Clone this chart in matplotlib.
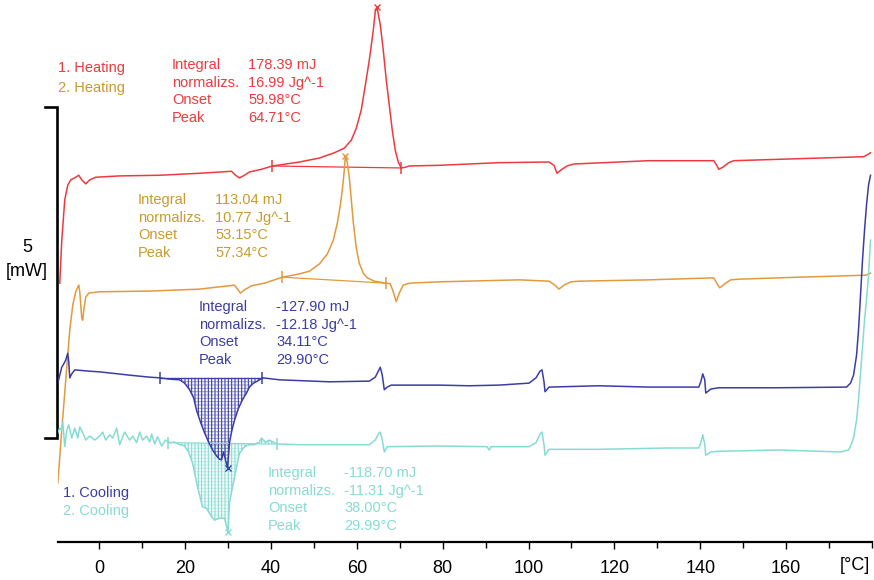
import numpy as np
import matplotlib
matplotlib.use("Agg")
import matplotlib.pyplot as plt

plt.rcParams['font.family'] = ['Liberation Sans', 'DejaVu Sans']
plt.rcParams['hatch.linewidth'] = 0.8

# ---- DSC runs: temperature [°C] and heat flow [mW] (runs stacked with offsets) ----
heat1_T = [-9.19, -8.72, -8.02, -7.33, -6.63, -5.47, -4.77, -4.07, -3.14, -2.21,
           -0.81, 4.77, 14.07, 23.37, 30.81, 31.74, 32.67, 33.84, 35.0, 37.79,
           40.35, 46.63, 51.28, 54.77, 57.09, 58.72, 59.88, 61.05, 61.98, 62.91,
           63.84, 64.30, 64.71, 65.47, 66.16, 66.86, 67.56, 68.26, 68.95, 69.65,
           70.35, 71.28, 72.21, 79.19, 93.14, 104.77, 105.93, 106.63, 107.56, 108.95,
           110.58, 128.02, 143.14, 143.84, 144.30, 145.23, 146.63, 147.79, 162.91, 178.02,
           178.95, 179.65]
heat1_mW = [3.91, 4.56, 5.17, 5.39, 5.47, 5.51, 5.54, 5.47, 5.41, 5.47,
            5.51, 5.53, 5.54, 5.57, 5.60, 5.54, 5.50, 5.54, 5.59, 5.63,
            5.68, 5.74, 5.80, 5.88, 5.95, 6.07, 6.25, 6.53, 6.90, 7.28,
            7.73, 8.01, 8.08, 7.81, 7.43, 6.98, 6.60, 6.22, 5.92, 5.74,
            5.65, 5.66, 5.68, 5.69, 5.73, 5.74, 5.69, 5.57, 5.62, 5.68,
            5.71, 5.76, 5.76, 5.69, 5.63, 5.66, 5.73, 5.76, 5.79, 5.82,
            5.85, 5.88]

heat2_T = [-9.65, -8.72, -7.79, -6.86, -6.16, -5.47, -5.0, -4.77, -4.53, -4.30,
           -4.07, -3.84, -3.60, -3.14, -2.44, 0.12, 11.74, 23.37, 31.51, 32.21,
           32.91, 33.84, 35.47, 38.49, 42.67, 46.63, 48.95, 51.28, 53.14, 54.53,
           55.47, 56.16, 56.63, 57.09, 57.34, 57.79, 58.26, 58.72, 59.19, 59.88,
           60.58, 61.51, 62.44, 64.07, 66.86, 67.79, 68.49, 69.19, 69.88, 70.81,
           72.21, 79.19, 97.79, 104.77, 106.16, 107.09, 108.26, 109.88, 111.74, 128.02,
           143.14, 143.84, 144.53, 145.70, 147.09, 148.95, 162.91, 178.49, 179.65]
heat2_mW = [0.89, 1.69, 2.45, 3.20, 3.58, 3.78, 3.85, 3.88, 3.78, 3.58,
            3.38, 3.35, 3.50, 3.70, 3.76, 3.78, 3.79, 3.82, 3.88, 3.82,
            3.76, 3.81, 3.87, 3.91, 4.00, 4.05, 4.09, 4.20, 4.35, 4.56,
            4.82, 5.09, 5.32, 5.62, 5.83, 5.73, 5.50, 5.17, 4.82, 4.44,
            4.21, 4.06, 3.99, 3.94, 3.91, 3.90, 3.78, 3.63, 3.76, 3.88,
            3.91, 3.93, 3.96, 3.94, 3.88, 3.82, 3.88, 3.93, 3.94, 3.96,
            3.99, 3.91, 3.84, 3.90, 3.96, 3.97, 4.00, 4.03, 4.06]

cool1_T = [-9.65, -9.19, -8.72, -8.26, -7.79, -7.33, -7.09, -6.86, -6.40, -5.70,
           -2.21, 0.12, 7.09, 11.74, 14.07, 16.40, 18.72, 19.88, 21.05, 21.98,
           22.67, 23.60, 24.53, 25.47, 26.40, 27.33, 28.02, 28.49, 28.95, 29.42,
           29.90, 30.35, 30.81, 31.51, 32.44, 33.37, 34.30, 35.0, 35.93, 36.86,
           38.02, 41.98, 53.60, 62.91, 64.30, 65.0, 65.47, 65.93, 66.40, 67.09,
           68.02, 79.19, 86.16, 93.14, 100.12, 101.74, 102.67, 103.14, 103.60, 103.84,
           104.77, 116.40, 128.02, 139.65, 140.12, 140.58, 141.05, 141.28, 142.44, 144.30,
           158.26, 174.07, 175.0, 175.70, 176.40, 176.86, 177.33, 177.79, 178.26, 178.72,
           179.19, 179.65]
cool1_mW = [2.40, 2.52, 2.64, 2.69, 2.75, 2.85, 2.72, 2.48, 2.54, 2.60,
            2.58, 2.57, 2.52, 2.49, 2.48, 2.46, 2.45, 2.40, 2.30, 2.18,
            1.99, 1.81, 1.65, 1.51, 1.39, 1.30, 1.25, 1.24, 1.36, 1.24,
            1.12, 1.50, 1.66, 1.84, 2.02, 2.15, 2.25, 2.34, 2.40, 2.43,
            2.48, 2.45, 2.42, 2.43, 2.49, 2.58, 2.64, 2.52, 2.30, 2.34,
            2.37, 2.37, 2.36, 2.37, 2.40, 2.48, 2.58, 2.60, 2.42, 2.27,
            2.34, 2.36, 2.34, 2.34, 2.42, 2.54, 2.45, 2.25, 2.31, 2.33,
            2.33, 2.34, 2.40, 2.52, 2.82, 3.20, 3.73, 4.26, 4.71, 5.09,
            5.39, 5.54]

cool2_T = [-9.65, -9.19, -8.79, -8.49, -8.02, -7.56, -7.09, -6.40, -5.70, -5.0,
           -4.53, -3.84, -3.14, -2.21, -1.05, 0.12, 0.81, 1.51, 2.44, 3.14,
           4.07, 4.77, 5.93, 7.09, 7.79, 8.72, 9.42, 10.12, 11.05, 11.74,
           12.21, 12.91, 13.60, 14.53, 15.47, 16.40, 17.56, 18.72, 19.88, 20.81,
           21.74, 22.91, 24.07, 25.0, 26.16, 26.86, 28.02, 29.19, 29.99, 30.35,
           31.05, 31.98, 32.67, 33.84, 35.0, 36.16, 37.33, 37.79, 38.72, 39.65,
           40.81, 41.51, 46.63, 62.91, 64.30, 65.0, 65.47, 65.93, 66.40, 67.09,
           79.19, 90.35, 90.81, 91.28, 100.12, 101.74, 102.67, 103.14, 103.60, 103.84,
           104.77, 116.40, 132.67, 139.65, 140.12, 140.58, 141.05, 141.28, 142.44, 144.30,
           158.26, 172.67, 174.53, 175.0, 175.70, 176.40, 176.86, 177.56, 178.26, 178.72,
           179.19, 179.65]
cool2_mW = [1.65, 1.72, 1.69, 1.81, 1.44, 1.69, 1.77, 1.57, 1.72, 1.57,
            1.74, 1.65, 1.54, 1.60, 1.54, 1.60, 1.66, 1.54, 1.62, 1.57,
            1.72, 1.47, 1.66, 1.54, 1.60, 1.50, 1.66, 1.54, 1.60, 1.51,
            1.63, 1.48, 1.59, 1.45, 1.54, 1.50, 1.51, 1.47, 1.45, 1.36,
            1.19, 0.83, 0.53, 0.51, 0.38, 0.33, 0.36, 0.36, 0.15, 0.59,
            0.83, 1.13, 1.34, 1.44, 1.47, 1.47, 1.51, 1.57, 1.51, 1.54,
            1.50, 1.48, 1.47, 1.47, 1.54, 1.63, 1.66, 1.54, 1.36, 1.44,
            1.45, 1.44, 1.39, 1.44, 1.44, 1.50, 1.63, 1.66, 1.47, 1.31,
            1.40, 1.40, 1.42, 1.42, 1.50, 1.62, 1.47, 1.31, 1.36, 1.37,
            1.39, 1.36, 1.39, 1.45, 1.57, 1.84, 2.15, 2.75, 3.35, 3.66,
            4.03, 4.56]

# Integration limits (start/end temperature, baseline heat flow at each end)
heat1_limits = [40.35, 70.35]
heat1_base = [5.68, 5.65]
heat2_limits = [42.67, 66.86]
heat2_base = [4.00, 3.91]
cool1_limits = [14.07, 38.02]
cool1_base = [2.48, 2.48]
cool2_limits = [15.93, 41.51]
cool2_base = [1.50, 1.48]

# Evaluation results
stat_names = ["Integral", "normalizs.", "Onset", "Peak"]
heat1_stats = ["178.39 mJ", "16.99 Jg^-1", "59.98°C", "64.71°C"]
heat2_stats = ["113.04 mJ", "10.77 Jg^-1", "53.15°C", "57.34°C"]
cool1_stats = ["-127.90 mJ", "-12.18 Jg^-1", "34.11°C", "29.90°C"]
cool2_stats = ["-118.70 mJ", "-11.31 Jg^-1", "38.00°C", "29.99°C"]
run_names = ["1. Heating", "2. Heating", "1. Cooling", "2. Cooling"]

x_ticks = [0, 20, 40, 60, 80, 100, 120, 140, 160]
scale_mW = 5

RED = "#EE3A3E"
ORANGE_LINE = "#E29A3E"
ORANGE_TEXT = "#C99A2E"
BLUE = "#3B3DA6"
CYAN = "#86DCD3"

W, H = 874, 580
fig = plt.figure(figsize=(W / 100, H / 100), dpi=100)
ax = fig.add_axes([58 / W, 38 / H, 814 / W, 542 / H])
ax.set_xlim(-9.6, 180)
ax.set_ylim(0, 542 / 66.2)

for s in ["top", "right", "left"]:
    ax.spines[s].set_visible(False)
ax.spines["bottom"].set_linewidth(1.6)
ax.set_yticks([])
ax.set_xticks(x_ticks)
ax.set_xticks(np.arange(10, 181, 10)[::2].tolist() + [180], minor=True)
ax.tick_params(axis="x", which="major", length=5, width=1.0, labelsize=13, pad=8)
ax.tick_params(axis="x", which="minor", length=4, width=1.0)


def draw_run(T, q, limits, base, color, hatched=False, minimum=False):
    T = np.asarray(T)
    q = np.asarray(q)
    ax.plot(T, q, color=color, lw=1.1, solid_joinstyle="round", zorder=3)
    # integration baseline and limit markers
    ax.plot(limits, base, color=color, lw=0.9, zorder=3)
    ax.plot(limits, base, ls="none", marker="|", ms=9, mew=1.1, color=color, zorder=4)
    if hatched:
        sel = (T >= limits[0]) & (T <= limits[1])
        tx = np.concatenate([[limits[0]], T[sel], [limits[1]]])
        qx = np.interp(tx, T, q)
        bx = np.interp(tx, limits, base)
        ax.fill_between(tx, bx, qx, facecolor="none", edgecolor=color,
                        hatch="|||||", linewidth=0, zorder=2)
        ax.fill_between(tx, bx, qx, facecolor="none", edgecolor=color,
                        hatch="-----", linewidth=0, alpha=0.45, zorder=2)
    # peak marker
    sel = (T >= limits[0]) & (T <= limits[1])
    idx = np.where(sel)[0]
    k = idx[np.argmin(q[sel])] if minimum else idx[np.argmax(q[sel])]
    ax.plot([T[k]], [q[k]], ls="none", marker="x", ms=5, mew=1.0, color=color, zorder=5)


draw_run(heat1_T, heat1_mW, heat1_limits, heat1_base, RED)
draw_run(heat2_T, heat2_mW, heat2_limits, heat2_base, ORANGE_LINE)
draw_run(cool2_T, cool2_mW, cool2_limits, cool2_base, CYAN, hatched=True, minimum=True)
draw_run(cool1_T, cool1_mW, cool1_limits, cool1_base, BLUE, hatched=True, minimum=True)

# 5 mW scale bar
bar_x = -9.8
stub_x = -12.6
y0 = cool1_base[0] - 0.91
ax.plot([stub_x, bar_x, bar_x, stub_x], [y0, y0, y0 + scale_mW, y0 + scale_mW],
        color="black", lw=1.9, clip_on=False, solid_joinstyle="miter")


def put(px, py, s, color, size=10.5, ha="left"):
    fig.text(px / W, 1 - py / H, s, color=color, fontsize=size, ha=ha, va="center")


put(27, 248, str(scale_mW), "black", size=13, ha="center")
put(27, 272, "[mW]", "black", size=13, ha="center")
put(855, 565, "[°C]", "black", size=13, ha="center")

put(58, 68, run_names[0], RED)
put(58, 88, run_names[1], ORANGE_TEXT)
put(63, 493, run_names[2], BLUE)
put(63, 511, run_names[3], CYAN)

blocks = [
    (172, 248, 65, heat1_stats, RED),
    (138, 215, 200, heat2_stats, ORANGE_TEXT),
    (199, 276, 307, cool1_stats, BLUE),
    (268, 344, 473, cool2_stats, CYAN),
]
for lx, vx, top, vals, col in blocks:
    for i, (name, val) in enumerate(zip(stat_names, vals)):
        put(lx, top + i * 17.7, name, col)
        put(vx, top + i * 17.7, val, col)

fig.savefig("out.png", dpi=100)
